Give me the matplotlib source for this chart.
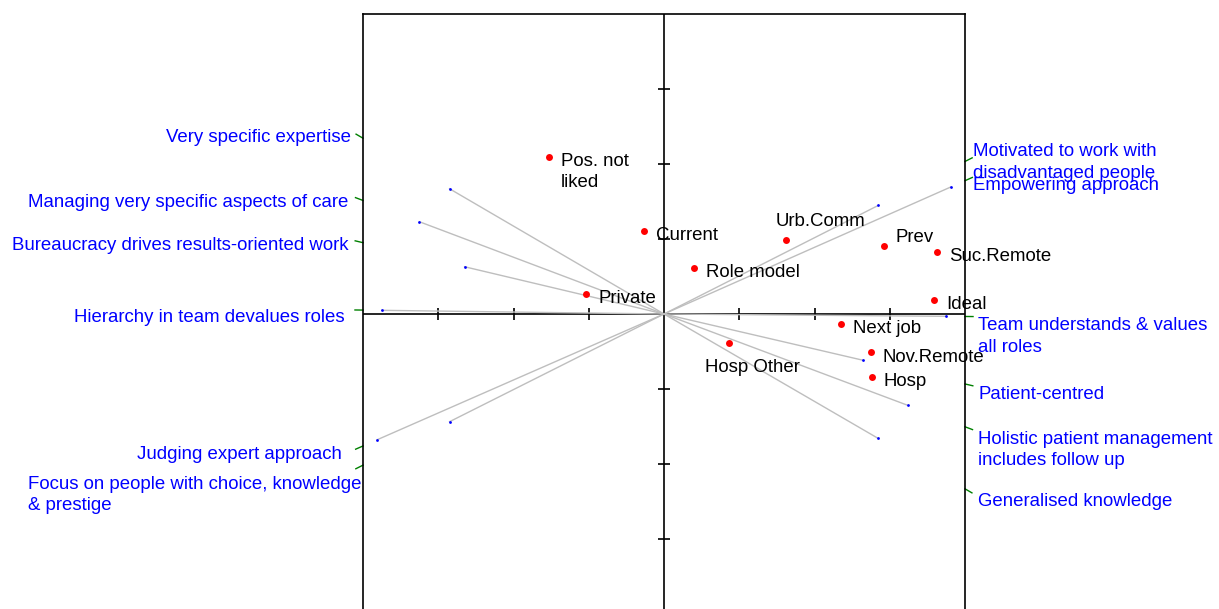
import numpy as np
import matplotlib
matplotlib.use('Agg')
import matplotlib.pyplot as plt

plt.rcParams['font.family'] = ['Liberation Sans', 'DejaVu Sans']

# row points (red)
rows = ['Pos. not\nliked', 'Current', 'Private', 'Role model', 'Urb.Comm', 'Prev',
        'Suc.Remote', 'Ideal', 'Next job', 'Nov.Remote', 'Hosp', 'Hosp Other']
row_x = [-1.53, -0.27, -1.03, 0.40, 1.62, 2.93, 3.63, 3.59, 2.35, 2.75, 2.76, 0.86]
row_y = [2.09, 1.11, 0.27, 0.61, 0.99, 0.91, 0.83, 0.19, -0.13, -0.51, -0.84, -0.39]

# column vectors (blue tips)
cols = ['Very specific expertise',
        'Managing very specific aspects of care',
        'Bureaucracy drives results-oriented work',
        'Hierarchy in team devalues roles',
        'Judging expert approach',
        'Focus on people with choice, knowledge\n& prestige',
        'Motivated to work with\ndisadvantaged people',
        'Empowering approach',
        'Team understands & values\nall roles',
        'Patient-centred',
        'Holistic patient management\nincludes follow up',
        'Generalised knowledge']
col_x = [-2.85, -3.25, -2.65, -3.75, -3.81, -2.85, 2.85, 3.81, 3.75, 2.65, 3.24, 2.845]
col_y = [1.67, 1.23, 0.63, 0.049, -1.676, -1.436, 1.449, 1.693, -0.031, -0.618, -1.218, -1.658]

# label nudges in pixels
row_off = [(12, -15), (12, -5), (12, -5), (12, -4), (-10, 18), (11, 8),
           (12, -5), (12, -5), (12, -5), (12, -5), (12, -5), (-24, -24)]
col_off = [(-12, 1), (-15, -2), (-15, -3), (-18, -7), (-21, -9), (-2, -30),
           (8, -1), (8, -5), (13, -20), (13, -11), (13, -23), (13, -13)]

lim = 4
fig = plt.figure(figsize=(12.19, 6.09), dpi=100)
ax = fig.add_axes([363 / 1219, 1 - 614 / 609, 602 / 1219, 600 / 609])
ax.set_xlim(-lim, lim)
ax.set_ylim(-lim, lim)
ax.set_xticks([])
ax.set_yticks([])
for s in ax.spines.values():
    s.set_linewidth(1.2)

ax.axhline(0, color='black', lw=1.2, zorder=1)
ax.axvline(0, color='black', lw=1.2, zorder=1)
tk = [-3, -2, -1, 1, 2, 3]
ax.plot(tk, [0] * 6, ls='none', marker='|', ms=9, mew=1.2, color='black', zorder=1)
ax.plot([0] * 6, tk, ls='none', marker='_', ms=9, mew=1.2, color='black', zorder=1)

for i in range(len(cols)):
    cx, cy = col_x[i], col_y[i]
    ax.plot([0, cx], [0, cy], color='#bebebe', lw=1.0, zorder=2)
    ax.plot(cx, cy, 'o', color='blue', ms=2, mec='none', zorder=3)
    # where the direction hits the frame
    ex = lim if cx > 0 else -lim
    ey = cy * lim / abs(cx)
    d = np.array([cx, cy]) / np.hypot(cx, cy) * 8 / 75
    ax.plot([ex, ex + d[0]], [ey, ey + d[1]], color='green', lw=1.0, clip_on=False)
    dx, dy = col_off[i]
    ax.annotate(cols[i], (ex, ey), xytext=(dx, dy), textcoords='offset pixels',
                ha='left' if cx > 0 else 'right', va='center', multialignment='left',
                linespacing=1.33, color='blue', fontsize=13.4, annotation_clip=False)

ax.plot(row_x, row_y, 'o', color='red', ms=5, mec='none', zorder=4)
for i in range(len(rows)):
    dx, dy = row_off[i]
    ax.annotate(rows[i], (row_x[i], row_y[i]), xytext=(dx, dy), textcoords='offset pixels',
                ha='left', va='center', linespacing=1.33, color='black',
                fontsize=13.4, zorder=5)

fig.savefig('out.png', dpi=100)
